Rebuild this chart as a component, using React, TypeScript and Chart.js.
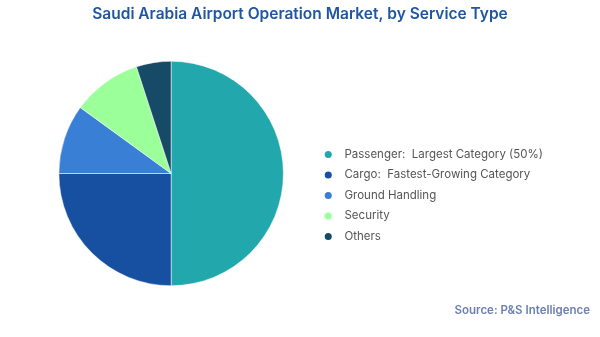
import React, { useEffect, useRef } from "react";
import { Chart, registerables } from "chart.js";

Chart.register(...registerables);

const titleText = "Saudi Arabia Airport Operation Market, by Service Type";
const sourceText = "Source: P&S Intelligence";
const categories = [
  "Passenger:  Largest Category (50%)",
  "Cargo:  Fastest-Growing Category",
  "Ground Handling",
  "Security",
  "Others",
];
const shares = [50, 25, 10, 10, 5];
const colors = ["#22a7ac", "#1750a0", "#3a7fd6", "#9bff9a", "#174a66"];

const textPlugin = {
  id: "textPlugin",
  afterDraw(chart: any) {
    const ctx = chart.ctx;
    ctx.save();
    ctx.fillStyle = "#1f55a3";
    ctx.font = "600 15.5px Inter";
    ctx.textAlign = "center";
    ctx.textBaseline = "middle";
    ctx.fillText(titleText, 300, 14);
    ctx.fillStyle = "#6b80ae";
    ctx.font = "600 11.5px Inter";
    ctx.textAlign = "right";
    ctx.fillText(sourceText, 590, 311);
    ctx.restore();
  },
};

export default function App() {
  const ref = useRef<HTMLCanvasElement>(null);
  useEffect(() => {
    if (!ref.current) return;
    const chart = new Chart(ref.current, {
      type: "pie",
      data: {
        labels: categories,
        datasets: [
          {
            data: shares,
            backgroundColor: colors,
            borderColor: "#ffffff",
            borderWidth: 0.5,
          },
        ],
      },
      plugins: [textPlugin],
      options: {
        responsive: true,
        maintainAspectRatio: false,
        animation: false,
        layout: { padding: { left: 27, right: 47, top: 61, bottom: 51 } },
        plugins: {
          title: { display: false },
          legend: {
            position: "right",
            title: {
              display: true,
              text: " ",
              font: { family: "Inter", size: 12 },
              padding: { top: 0, bottom: 29.6 },
            },
            labels: {
              usePointStyle: true,
              pointStyle: "circle",
              boxWidth: 8,
              boxHeight: 5,
              padding: 9,
              color: "#555555",
              font: { family: "Inter", size: 11.5 },
              generateLabels: (chart: any) => {
                const items = Chart.overrides.pie.plugins.legend.labels.generateLabels(chart);
                return items.map((it: any) => ({ ...it, text: "  " + it.text, lineWidth: 0 }));
              },
            },
          },
          tooltip: { enabled: false },
        },
      },
    });
    return () => chart.destroy();
  }, []);
  return (
    <div style={{ position: "fixed", left: 0, top: 0, width: 600, height: 337, background: "#fff" }}>
      <canvas ref={ref} />
    </div>
  );
}
